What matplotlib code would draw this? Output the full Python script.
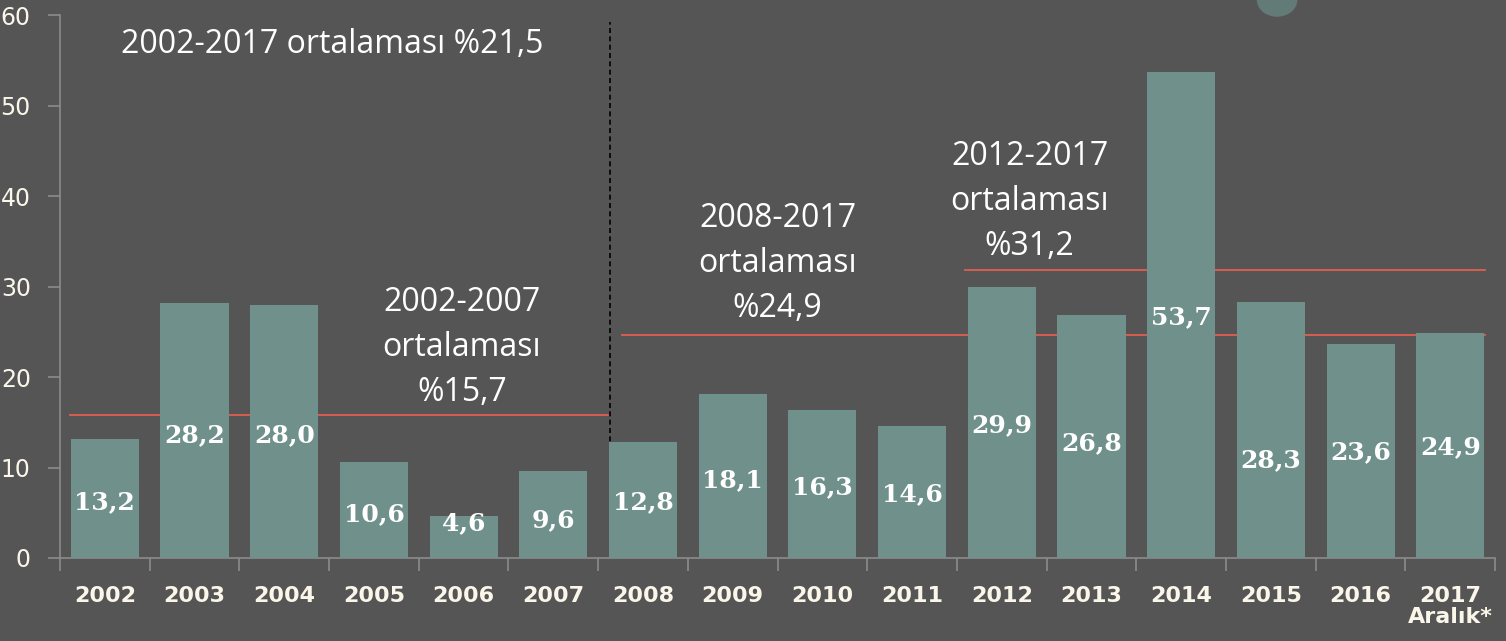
import matplotlib
matplotlib.use("Agg")
import matplotlib.pyplot as plt
from matplotlib.patches import Ellipse
import numpy as np

# veriler
years = ["2002", "2003", "2004", "2005", "2006", "2007", "2008", "2009",
         "2010", "2011", "2012", "2013", "2014", "2015", "2016", "2017\nAralık*"]
values = [13.2, 28.2, 28.0, 10.6, 4.6, 9.6, 12.8, 18.1,
          16.3, 14.6, 29.9, 26.8, 53.7, 28.3, 23.6, 24.9]
labels = ["13,2", "28,2", "28,0", "10,6", "4,6", "9,6", "12,8", "18,1",
          "16,3", "14,6", "29,9", "26,8", "53,7", "28,3", "23,6", "24,9"]
# etiketlerin dikey konumu
label_y = [6.2, 13.6, 13.6, 4.8, 3.9, 4.2, 6.2, 8.6,
           7.8, 7.1, 14.7, 12.7, 26.6, 10.8, 11.7, 12.3]

# ortalama çizgileri (seviye, başlangıç, bitiş)
avg_levels = [15.8, 24.6, 31.8]
avg_start = [-0.39, 5.77, 9.59]
avg_end = [5.61, 15.39, 15.39]
avg_texts = ["2002-2007\nortalaması\n%15,7", "2008-2017\nortalaması\n%24,9",
             "2012-2017\nortalaması\n%31,2"]

bg = "#555555"
bar_col = "#70918b"
red = "#e0604f"
spine_col = "#8c8c8c"

fig = plt.figure(figsize=(15.06, 6.41), dpi=100, facecolor=bg)
ax = fig.add_axes([0.0398, 0.1295, 0.953, 0.847])
ax.set_facecolor(bg)

x = np.arange(len(values))
ax.bar(x, values, width=0.76, color=bar_col, zorder=3)

for xi, yi, lab in zip(x, label_y, labels):
    ax.text(xi, yi, lab, ha="center", va="center", color="white",
            fontsize=18, fontweight="bold", family="DejaVu Serif", zorder=4)

# ortalama çizgileri
for lvl, s, e in zip(avg_levels, avg_start, avg_end):
    ax.plot([s, e], [lvl, lvl], color=red, lw=1.3, zorder=2)

# kesik dikey çizgi
ax.plot([5.63, 5.63], [0, 59.2], color="black", lw=1.2, ls=(0, (3, 2)), zorder=2)

txt_kw = dict(color="white", fontsize=23, family="Open Sans", ha="center",
              va="center", linespacing=1.48, zorder=5)
ax.text(2.54, 56.7, "2002-2017 ortalaması %21,5", **txt_kw)
ax.text(3.98, 23.3, avg_texts[0], **txt_kw)
ax.text(7.5, 32.5, avg_texts[1], **txt_kw)
ax.text(10.31, 39.4, avg_texts[2], **txt_kw)

ax.set_xlim(-0.5, 15.5)
ax.set_ylim(0, 60)
ax.set_yticks(range(0, 61, 10))

# yıllar kategori ortasında, çentikler aralarda
ax.set_xticks(np.arange(-0.5, 16, 1))
ax.set_xticklabels([])
ax.set_xticks(x, minor=True)
ax.set_xticklabels(years, minor=True)
ax.tick_params(axis="x", which="major", length=9, color=spine_col, width=1.2)
ax.tick_params(axis="x", which="minor", length=0, pad=20, labelsize=16,
               labelcolor="#fbf6ea")
ax.tick_params(axis="y", length=9, color=spine_col, width=1.2, pad=12,
               labelsize=17, labelcolor="#fbf6ea")
for t in ax.get_xticklabels(minor=True):
    t.set_fontweight("bold")
    t.set_linespacing(1.1)
    t.set_multialignment("center")

for side in ["top", "right"]:
    ax.spines[side].set_visible(False)
for side in ["left", "bottom"]:
    ax.spines[side].set_color(spine_col)
    ax.spines[side].set_linewidth(1.2)

# sağ üstteki küçük şekil
fig.patches.append(Ellipse((0.848, 1.0), 0.026, 0.05, transform=fig.transFigure,
                           color="#627b77", zorder=0))

fig.savefig("out.png", dpi=100, facecolor=bg)
